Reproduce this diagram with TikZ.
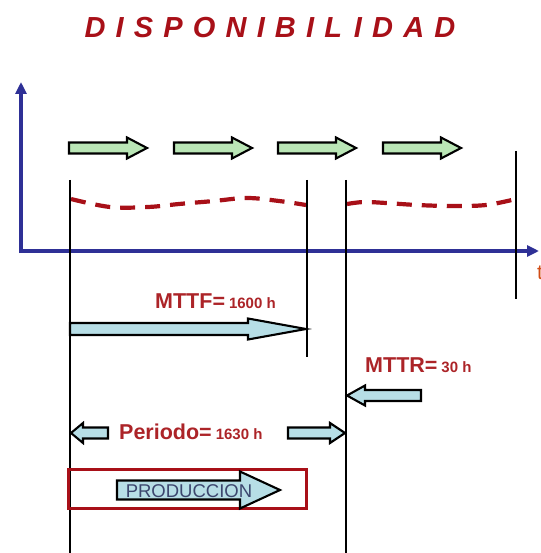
\documentclass[tikz,border=0pt]{standalone}
\usepackage{xcolor}
\usepackage{fontspec}
\setmainfont{Liberation Sans}
\newfontfamily\titlefont[LetterSpace=35]{Liberation Sans}
\usepackage{tikz}
\usetikzlibrary{arrows.meta}

\definecolor{axisblue}{RGB}{46,48,150}
\definecolor{darkred}{RGB}{168,16,24}
\definecolor{labelred}{RGB}{172,36,40}
\definecolor{upgreen}{RGB}{186,230,182}
\definecolor{arrblue}{RGB}{183,222,230}
\definecolor{prodtext}{RGB}{60,70,110}

% block arrow: style, tail x, head base x, tip x, y, half body, half head
\newcommand{\blockarrow}[7]{%
  \draw[#1] (#2,#5-#6) -- (#3,#5-#6) -- (#3,#5-#7) -- (#4,#5)
    -- (#3,#5+#7) -- (#3,#5+#6) -- (#2,#5+#6) -- cycle;}

\tikzset{
  axis/.style={axisblue, line width=3.5pt, -{Triangle[length=12pt,width=11pt]}},
  mark line/.style={black, line width=1.3pt},
  greenarr/.style={fill=upgreen, draw=black, line width=2.1pt, line join=miter},
  bluearr/.style={fill=arrblue, draw=black, line width=2.1pt, line join=miter},
  state line/.style={darkred, line width=4.2pt, dash pattern=on 15pt off 10pt},
  biglabel/.style={labelred, font=\fontsize{21.5}{22}\selectfont\bfseries, inner sep=0pt, anchor=base west},
}
\newcommand{\smallnum}[1]{{\fontsize{15}{15}\selectfont #1}}

\begin{document}
\begin{tikzpicture}[x=1pt, y=-1pt]
    \useasboundingbox (0,0) rectangle (540,553);

    % title
    \node[darkred, anchor=base, inner sep=0pt] (title) at (270,38)
        {\titlefont\fontsize{29}{29}\selectfont\bfseries\itshape DISPONIBIL\hspace{12pt}IDAD};

    % axes
    \draw[axis] (21,253) -- (21,82);
    \draw[axis] (19,251) -- (539,251);
    \node[labelred!55!orange, anchor=base west, inner sep=0pt, font=\fontsize{21}{21}\selectfont] (t) at (537,279) {t};

    % up arrows
    \foreach \s in {69,174,278,383}{
        \blockarrow{greenarr}{\s}{\s+58}{\s+78}{148}{5.5}{10.5}
    }

    % dashed curve of the state
    \draw[state line]
        plot[smooth, tension=0.6] coordinates {(71,199) (110,207) (148,207) (179,204) (214,201) (247,198) (279,201) (306,205)};
    \draw[state line]
        plot[smooth, tension=0.6] coordinates {(347,204) (364,202) (386,203) (417,205) (452,206) (486,205) (516,199)};

    % vertical marks
    \draw[mark line] (70,180) -- (70,553);
    \draw[mark line] (307,180) -- (307,357);
    \draw[mark line] (346,180) -- (346,553);
    \draw[mark line] (516,151) -- (516,299);

    % MTTF
    \node[biglabel] (mttf) at (155,308) {MTTF=\hspace{4pt}\smallnum{1600 h}};
    \blockarrow{bluearr}{70}{248}{306}{329}{6}{10.5}

    % MTTR
    \node[biglabel] (mttr) at (365,372) {MTTR=\hspace{4pt}\smallnum{30 h}};
    \blockarrow{bluearr}{421}{365}{347}{395.5}{5.5}{10}

    % Periodo
    \node[biglabel] (periodo) at (119,439) {Periodo=\hspace{4pt}\smallnum{1630 h}};
    \blockarrow{bluearr}{108}{83}{71}{433}{5.5}{10}
    \blockarrow{bluearr}{288}{330}{345}{433}{5.5}{10}

    % production box
    \draw[darkred, line width=3.2pt] (68.5,469.5) rectangle (306.5,508.5);
    \blockarrow{bluearr}{117}{240}{280}{490}{9.5}{18.5}
    \node[prodtext, anchor=base, inner sep=0pt, font=\fontsize{18.5}{18.5}\selectfont] (prod) at (189,497.5) {PRODUCCION};
\end{tikzpicture}
\end{document}
